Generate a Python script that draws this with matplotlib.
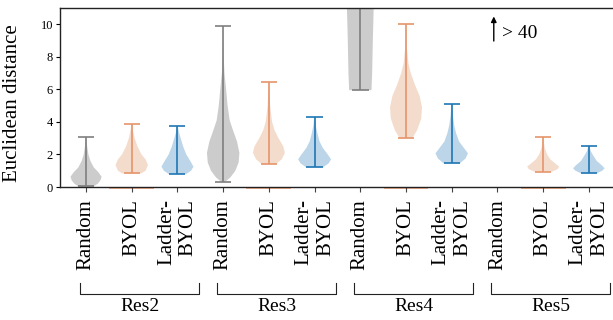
import numpy as np
import matplotlib.pyplot as plt
import matplotlib.transforms as mtransforms

plt.rcParams['font.family'] = ['Liberation Serif', 'DejaVu Serif']

layers = ['Res2', 'Res3', 'Res4', 'Res5']
methods = ['Random', 'BYOL', 'Ladder-\nBYOL']

# violin outlines: value levels and relative density
res2_random_y = [0.05, 0.2, 0.4, 0.63, 0.9, 1.2, 1.6, 2.0, 2.5, 3.06]
res2_random_d = [0.5, 0.75, 0.92, 1.0, 0.8, 0.5, 0.28, 0.15, 0.07, 0.02]
res2_byol_y = [0.84, 1.0, 1.35, 1.7, 2.0, 2.5, 3.0, 3.5, 3.87]
res2_byol_d = [0.6, 0.85, 1.0, 0.85, 0.6, 0.35, 0.18, 0.07, 0.02]
res2_ladder_y = [0.8, 1.0, 1.25, 1.6, 2.0, 2.5, 3.0, 3.4, 3.76]
res2_ladder_d = [0.55, 0.85, 1.0, 0.8, 0.55, 0.35, 0.2, 0.08, 0.02]

res3_random_y = [0.3, 0.6, 1.0, 1.5, 2.1, 2.8, 3.5, 4.1, 5.0, 6.0, 7.0, 8.0, 9.0, 9.88]
res3_random_d = [0.1, 0.45, 0.75, 0.95, 1.0, 0.85, 0.6, 0.4, 0.27, 0.18, 0.08, 0.03, 0.01, 0.005]
res3_byol_y = [1.41, 1.7, 2.1, 2.5, 3.0, 3.5, 4.0, 5.0, 6.0, 6.46]
res3_byol_d = [0.45, 0.8, 1.0, 0.9, 0.6, 0.35, 0.2, 0.08, 0.03, 0.01]
res3_ladder_y = [1.2, 1.45, 1.7, 2.0, 2.4, 2.8, 3.3, 3.8, 4.31]
res3_ladder_d = [0.5, 0.85, 1.0, 0.8, 0.5, 0.3, 0.17, 0.07, 0.02]

res4_random_y = [5.95, 7.0, 9.0, 11.0, 15.0, 20.0, 25.0, 30.0]
res4_random_d = [0.66, 0.7, 0.74, 0.79, 1.0, 0.7, 0.3, 0.05]
res4_byol_y = [3.0, 3.5, 4.2, 4.9, 5.6, 6.3, 7.0, 7.6, 8.5, 9.3, 10.0]
res4_byol_d = [0.4, 0.7, 0.95, 1.0, 0.85, 0.55, 0.3, 0.15, 0.06, 0.03, 0.01]
res4_ladder_y = [1.45, 1.75, 2.07, 2.4, 2.8, 3.3, 3.8, 4.4, 5.13]
res4_ladder_d = [0.5, 0.85, 1.0, 0.75, 0.45, 0.27, 0.15, 0.07, 0.02]

res5_random_y = [42.0, 45.0, 50.0, 55.0, 60.0]
res5_random_d = [0.6, 1.0, 0.7, 0.3, 0.05]
res5_byol_y = [0.94, 1.1, 1.25, 1.45, 1.7, 2.0, 2.4, 2.7, 3.05]
res5_byol_d = [0.55, 0.9, 1.0, 0.75, 0.45, 0.25, 0.1, 0.05, 0.02]
res5_ladder_y = [0.84, 1.0, 1.15, 1.35, 1.6, 1.9, 2.2, 2.53]
res5_ladder_d = [0.5, 0.85, 1.0, 0.8, 0.5, 0.3, 0.12, 0.03]

violin_widths = [0.68, 0.71, 0.7, 0.71, 0.7, 0.72, 0.74, 0.7, 0.71, 0.7, 0.7, 0.69]

profiles = [
    (res2_random_y, res2_random_d), (res2_byol_y, res2_byol_d), (res2_ladder_y, res2_ladder_d),
    (res3_random_y, res3_random_d), (res3_byol_y, res3_byol_d), (res3_ladder_y, res3_ladder_d),
    (res4_random_y, res4_random_d), (res4_byol_y, res4_byol_d), (res4_ladder_y, res4_ladder_d),
    (res5_random_y, res5_random_d), (res5_byol_y, res5_byol_d), (res5_ladder_y, res5_ladder_d),
]

fill_colors = ['#cccccc', '#f4dccd', '#bcd5e9']
line_colors = ['#7f7f7f', '#e5956b', '#1f77b4']

fig = plt.figure(figsize=(6.13, 3.2), dpi=100)
ax = fig.add_axes([60 / 613, 133 / 320, 554 / 613, 179 / 320])

positions = np.arange(1, len(profiles) + 1)

for i, (y, d) in enumerate(profiles):
    y = np.array(y)
    d = np.array(d)
    stats = [dict(coords=y, vals=d, mean=y[np.argmax(d)], median=y[np.argmax(d)],
                  min=y.min(), max=y.max())]
    parts = ax.violin(stats, positions=[positions[i]], widths=[violin_widths[i]],
                      showmeans=False, showmedians=False, showextrema=True)
    k = i % 3
    for body in parts['bodies']:
        body.set_facecolor(fill_colors[k])
        body.set_edgecolor('none')
        body.set_alpha(1)
    for key in ('cmins', 'cmaxes', 'cbars'):
        parts[key].set_color(line_colors[k])
        parts[key].set_linewidth(1.2)

# orange strips along the baseline under BYOL
byol_pos = positions[1::3]
ax.hlines(np.full(len(byol_pos), -0.09), byol_pos - 0.49, byol_pos + 0.49,
          color='#f0a47c', lw=1.2, zorder=1, clip_on=False)

ax.set_xlim(0.43, 12.55)
ax.set_ylim(0, 11)
ax.set_yticks([0, 2, 4, 6, 8, 10])
ax.set_xticks(positions)
ax.set_xticklabels(methods * len(layers), rotation=90, fontsize=15,
                   multialignment='right')
ax.tick_params(axis='x', length=3.5, width=0.8, color='#444444', pad=5)
ax.tick_params(axis='y', length=3, width=0.8, labelsize=9, pad=2)
ax.spines['right'].set_visible(False)
for s in ('left', 'top', 'bottom'):
    ax.spines[s].set_linewidth(1.0)
    ax.spines[s].set_color('#222222')
    ax.spines[s].set_zorder(3)

ax.set_ylabel('Euclidean distance', fontsize=15)
ax.yaxis.set_label_coords(-0.068, 0.47)

# arrow marking values beyond 40
ax.annotate('', xy=(9.92, 10.65), xytext=(9.92, 8.8),
            arrowprops=dict(arrowstyle='-|>', color='k', lw=1, mutation_scale=8))
ax.text(10.1, 9.45, '> 40', fontsize=14, va='center', ha='left')

# group brackets
trans = mtransforms.blended_transform_factory(ax.transData, ax.transAxes)
for g, name in enumerate(layers):
    x0 = positions[3 * g] - 0.13
    x1 = positions[3 * g + 2] + 0.47
    ax.plot([x0, x0, x1, x1], [-0.535, -0.595, -0.595, -0.535], color='#222222',
            lw=0.8, transform=trans, clip_on=False)
    ax.text((x0 + x1) / 2, -0.665, name, transform=trans, ha='center', va='center',
            fontsize=14)

fig.savefig('out.png', dpi=100)
